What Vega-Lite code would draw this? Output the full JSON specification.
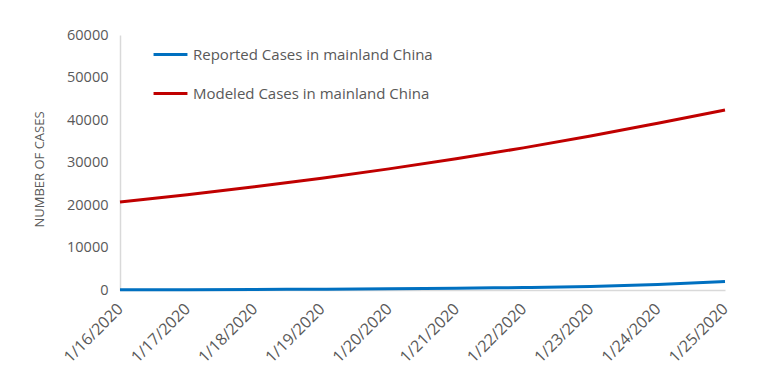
{
  "$schema": "https://vega.github.io/schema/vega-lite/v6.json",
  "width": 605,
  "height": 255,
  "autosize": {"type": "none"},
  "padding": {"left": 120, "top": 35, "right": 43, "bottom": 93},
  "background": "white",
  "config": {
    "view": {"stroke": null},
    "font": "Open Sans"
  },
  "data": {
    "values": [
      {"date": "1/16/2020", "series": "Reported Cases in mainland China", "cases": 45},
      {"date": "1/17/2020", "series": "Reported Cases in mainland China", "cases": 62},
      {"date": "1/18/2020", "series": "Reported Cases in mainland China", "cases": 121},
      {"date": "1/19/2020", "series": "Reported Cases in mainland China", "cases": 198},
      {"date": "1/20/2020", "series": "Reported Cases in mainland China", "cases": 291},
      {"date": "1/21/2020", "series": "Reported Cases in mainland China", "cases": 440},
      {"date": "1/22/2020", "series": "Reported Cases in mainland China", "cases": 571},
      {"date": "1/23/2020", "series": "Reported Cases in mainland China", "cases": 830},
      {"date": "1/24/2020", "series": "Reported Cases in mainland China", "cases": 1287},
      {"date": "1/25/2020", "series": "Reported Cases in mainland China", "cases": 1975},
      {"date": "1/16/2020", "series": "Modeled Cases in mainland China", "cases": 20700},
      {"date": "1/17/2020", "series": "Modeled Cases in mainland China", "cases": 22420},
      {"date": "1/18/2020", "series": "Modeled Cases in mainland China", "cases": 24290},
      {"date": "1/19/2020", "series": "Modeled Cases in mainland China", "cases": 26310},
      {"date": "1/20/2020", "series": "Modeled Cases in mainland China", "cases": 28500},
      {"date": "1/21/2020", "series": "Modeled Cases in mainland China", "cases": 30870},
      {"date": "1/22/2020", "series": "Modeled Cases in mainland China", "cases": 33440},
      {"date": "1/23/2020", "series": "Modeled Cases in mainland China", "cases": 36230},
      {"date": "1/24/2020", "series": "Modeled Cases in mainland China", "cases": 39250},
      {"date": "1/25/2020", "series": "Modeled Cases in mainland China", "cases": 42350}
    ]
  },
  "mark": {"type": "line", "interpolate": "monotone", "strokeWidth": 3},
  "encoding": {
    "x": {
      "field": "date",
      "type": "ordinal",
      "sort": null,
      "scale": {"type": "point", "padding": 0},
      "axis": {
        "title": null,
        "labelAngle": -45,
        "labelAlign": "right",
        "labelBaseline": "middle",
        "labelFontSize": 16,
        "labelColor": "#595959",
        "labelPadding": 16,
        "ticks": false,
        "domainColor": "#d9d9d9",
        "domainWidth": 1.5,
        "grid": false
      }
    },
    "y": {
      "field": "cases",
      "type": "quantitative",
      "scale": {"domain": [0, 60000], "nice": false},
      "axis": {
        "title": "NUMBER OF CASES",
        "titleFontSize": 13,
        "titleFontWeight": "normal",
        "titleColor": "#595959",
        "titlePadding": 20,
        "titleY": 134,
        "values": [0, 10000, 20000, 30000, 40000, 50000, 60000],
        "format": "d",
        "labelFontSize": 14.5,
        "labelColor": "#595959",
        "labelPadding": 12,
        "ticks": false,
        "domainColor": "#d9d9d9",
        "domainWidth": 1.5,
        "grid": false
      }
    },
    "color": {
      "field": "series",
      "type": "nominal",
      "sort": ["Reported Cases in mainland China", "Modeled Cases in mainland China"],
      "scale": {
        "domain": ["Reported Cases in mainland China", "Modeled Cases in mainland China"],
        "range": ["#0070c0", "#c00000"]
      },
      "legend": {
        "title": null,
        "orient": "none",
        "legendX": 32,
        "legendY": 1,
        "symbolType": "stroke",
        "symbolSize": 1150,
        "symbolStrokeWidth": 3,
        "labelFontSize": 15,
        "labelColor": "#595959",
        "labelOffset": 4,
        "rowPadding": 12,
        "labelLimit": 400
      }
    }
  }
}
